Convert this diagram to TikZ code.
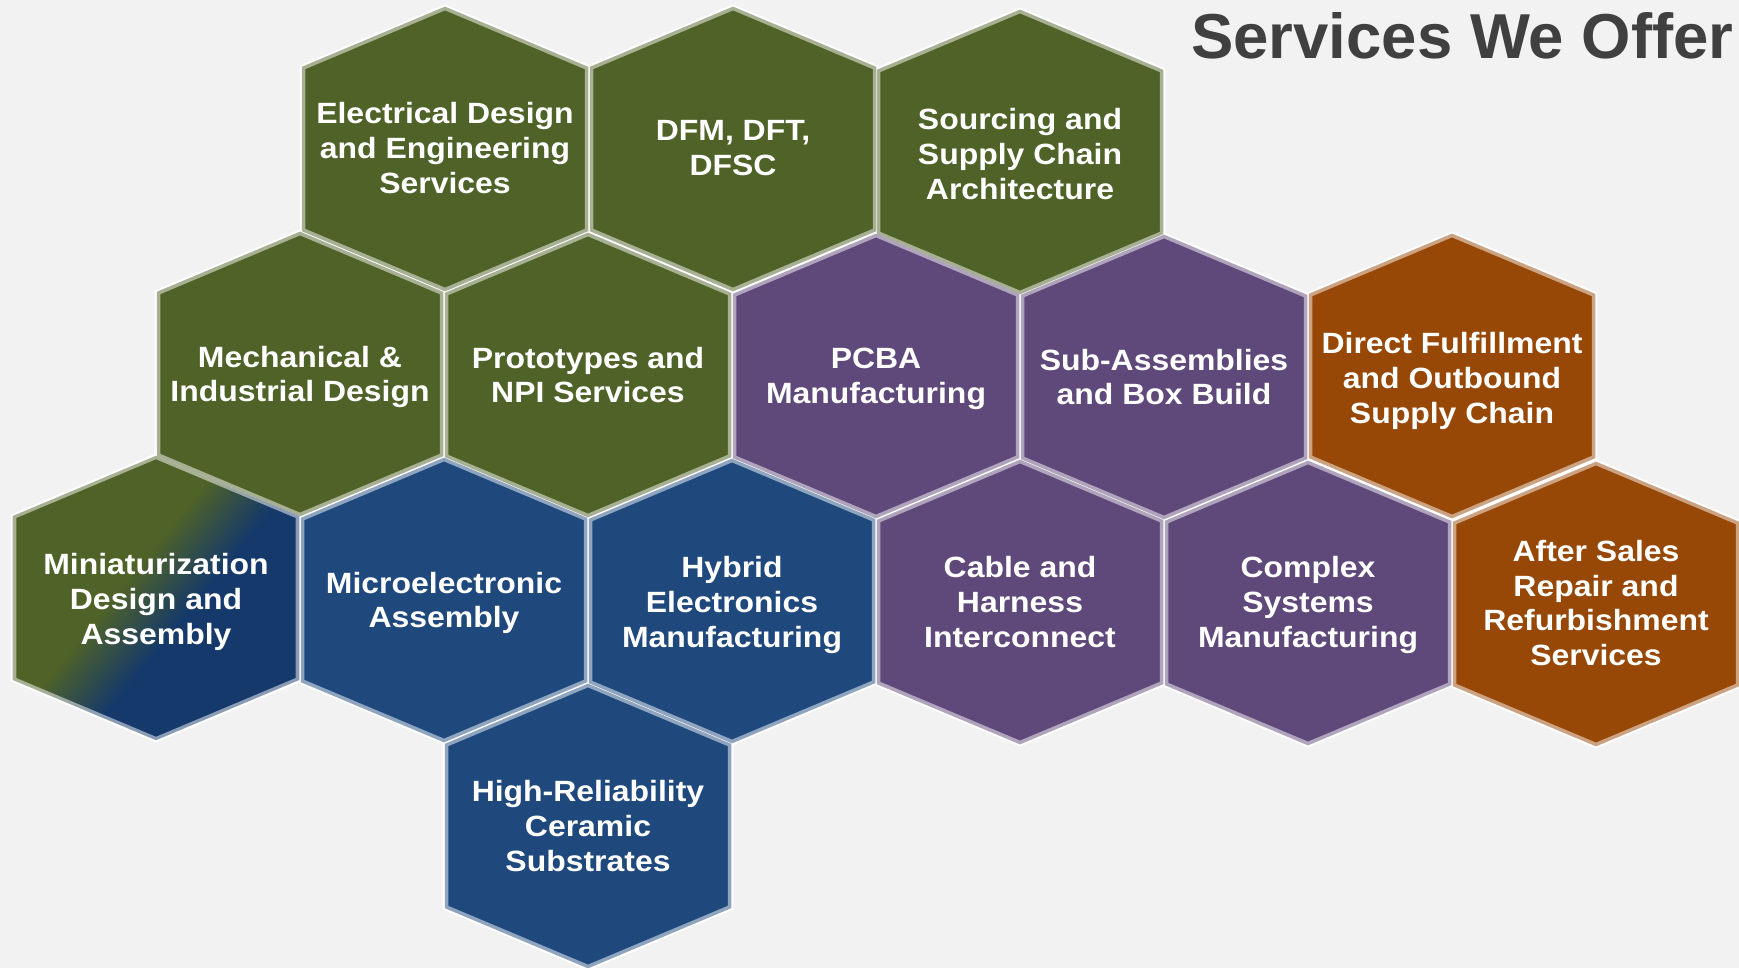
\documentclass[tikz,border=0pt]{standalone}
\usepackage{fontspec}
\setmainfont{Liberation Sans}
\newfontfamily\hexfont{Liberation Sans}[FakeStretch=1.09]
\definecolor{bg}{HTML}{F2F2F2}
\definecolor{hgreen}{HTML}{4F6228}
\definecolor{hblue}{HTML}{1F497D}
\definecolor{hpurple}{HTML}{5F497A}
\definecolor{horange}{HTML}{974806}
\definecolor{mblue}{HTML}{15396A}
\definecolor{titlegray}{HTML}{404040}
\colorlet{hgreenlt}{hgreen!50!white}
\colorlet{mbluelt}{mblue!50!white}
\pgfdeclarehorizontalshading{minigrad}{100bp}{color(0bp)=(hgreen); color(44bp)=(hgreen); color(56bp)=(mblue); color(100bp)=(mblue)}
\pgfdeclarehorizontalshading{miniring}{100bp}{color(0bp)=(hgreenlt); color(44bp)=(hgreenlt); color(56bp)=(mbluelt); color(100bp)=(mbluelt)}
\newcommand\hexpath{(0,-140.5) -- (141.5,-81) -- (141.5,81) -- (0,140.5) -- (-141.5,81) -- (-141.5,-81) -- cycle}
\newcommand\hexpathsc[1]{(0,-140.5*#1) -- (141.5*#1,-81*#1) -- (141.5*#1,81*#1) -- (0,140.5*#1) -- (-141.5*#1,81*#1) -- (-141.5*#1,-81*#1) -- cycle}
\newcommand\dstrut{\rule[-0.21em]{0pt}{0.21em}}
\tikzset{
  hexhalo/.style={draw=white, line width=7.5pt},
  hexborder/.style={line width=3.5pt},
  hexlabel/.style={text=white, align=center, inner sep=0pt,
    font=\hexfont\bfseries\fontsize{29.3}{34.7}\selectfont},
  titlestyle/.style={text=titlegray, inner sep=0pt,
    font=\bfseries\fontsize{63.5}{70}\selectfont}
}
% name, x, y, colour, text, text offset
\newcommand\hexcell[6]{%
  \fill[#4, shift={(#2,#3)}] \hexpath;
  \draw[#4!50!white, hexborder, shift={(#2,#3)}] \hexpath;
  \node[hexlabel] (#1) at (#2,#3+2+#6) {#5\dstrut};
}
\begin{document}
\begin{tikzpicture}[x=1pt,y=-1pt]
\useasboundingbox (0,0) rectangle (1739,968);
\fill[bg] (0,0) rectangle (1739,968);
% white halos under all cells
\foreach \hx/\hy in {445/149, 733/149, 1020/152, 300/374, 588/375, 876/376, 1164/377, 1452/376, 156/598, 444/600, 732/601, 1020/602, 1308/603, 1596/604, 588/826}
  \draw[hexhalo, shift={(\hx,\hy)}] \hexpath;
% row 1
\hexcell{elec}{445}{149}{hgreen}{Electrical Design\\and Engineering\\Services}{0}
\hexcell{dfm}{733}{149}{hgreen}{DFM, DFT,\\DFSC}{0}
\hexcell{sourcing}{1020}{152}{hgreen}{Sourcing and\\Supply Chain\\Architecture}{3}
% row 2
\hexcell{mech}{300}{374}{hgreen}{Mechanical \&\\Industrial Design}{1}
\hexcell{proto}{588}{375}{hgreen}{Prototypes and\\NPI Services}{1}
\hexcell{pcba}{876}{376}{hpurple}{PCBA\\Manufacturing}{1}
\hexcell{sub}{1164}{377}{hpurple}{Sub-Assemblies\\and Box Build}{1}
\hexcell{direct}{1452}{376}{horange}{Direct Fulfillment\\and Outbound\\Supply Chain}{3}
% row 3
\shade[shading=minigrad, shading angle=-39, shift={(156,598)}] \hexpath;
\shade[shading=miniring, shading angle=-39, even odd rule, shift={(156,598)}] \hexpathsc{1.0124} \hexpathsc{0.9876};
\node[hexlabel] (mini) at (156,602) {Miniaturization\\Design and\\Assembly\dstrut};
\hexcell{micro}{444}{600}{hblue}{Microelectronic\\Assembly}{1}
\hexcell{hybrid}{732}{601}{hblue}{Hybrid\\Electronics\\Manufacturing}{2}
\hexcell{cable}{1020}{602}{hpurple}{Cable and\\Harness\\Interconnect}{1}
\hexcell{complex}{1308}{603}{hpurple}{Complex\\Systems\\Manufacturing}{0}
\hexcell{after}{1596}{604}{horange}{After Sales\\Repair and\\Refurbishment\\Services}{0}
% row 4
\hexcell{hirel}{588}{826}{hblue}{High-Reliability\\Ceramic\\Substrates}{1}
% title
\node[titlestyle, anchor=base west] (title) at (1191,59) {Services We Offer};
\end{tikzpicture}
\end{document}
